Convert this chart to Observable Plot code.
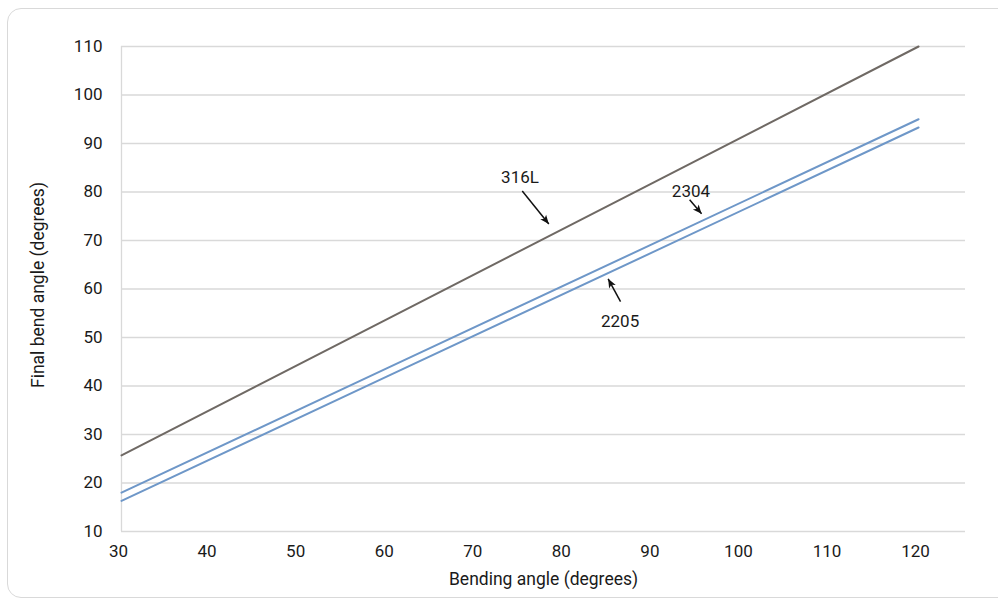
<!DOCTYPE html>
<html>
<head>
<meta charset="utf-8">
<script src="https://cdn.jsdelivr.net/npm/d3@7"></script>
<script src="https://cdn.jsdelivr.net/npm/@observablehq/plot@0.6"></script>
<style>
  html, body { margin: 0; padding: 0; background: #fff; }
  #wrap { position: relative; width: 998px; height: 601px; overflow: hidden; }
  #frame { position: absolute; left: 7px; top: 8px; width: 1010px; height: 590px;
           border: 1px solid #d9d9d9; border-radius: 14px; box-sizing: border-box; }
  #chart { position: absolute; left: 0; top: 0; }
</style>
</head>
<body>
<div id="wrap"><div id="frame"></div><div id="chart"></div></div>
<script>
// Bending angle (degrees) on x
const bendingAngle = [30, 60, 90, 120];
// Final bend angle (degrees) per grade
const final316L = [25.7, 53.8, 81.9, 110.0];
const final2304 = [18.0, 43.7, 69.3, 95.0];
const final2205 = [16.3, 42.0, 67.6, 93.3];
const seriesNames = ["316L", "2304", "2205"];
const xTicks = [30, 40, 50, 60, 70, 80, 90, 100, 110, 120];
const yTicks = [10, 20, 30, 40, 50, 60, 70, 80, 90, 100, 110];

// Annotation labels and arrows (data coordinates)
const labelX = [75.0, 94.3, 86.3];
const labelY = [83.0, 80.0, 53.3];
const arrowX1 = [75.25, 94.15, 86.35];
const arrowY1 = [80.2, 78.4, 57.4];
const arrowX2 = [78.25, 95.5, 84.95];
const arrowY2 = [73.4, 75.5, 62.1];

const colors = {"316L": "#6f6964", "2304": "#6e97c8", "2205": "#6e97c8"};
const seriesValues = [final316L, final2304, final2205];
const data = [];
seriesNames.forEach((s, i) => bendingAngle.forEach((x, j) => data.push({grade: s, x, y: seriesValues[i][j]})));
const labels = seriesNames.map((s, i) => ({text: s, x: labelX[i], y: labelY[i]}));
const arrows = seriesNames.map((s, i) => ({x1: arrowX1[i], y1: arrowY1[i], x2: arrowX2[i], y2: arrowY2[i]}));

const chart = Plot.plot({
  width: 998,
  height: 601,
  marginLeft: 121,
  marginRight: 33,
  marginTop: 46,
  marginBottom: 70,
  style: {fontFamily: "Roboto, sans-serif", fontSize: "17px", color: "#1a1a1a", background: "transparent"},
  x: {domain: [30, 125.3], ticks: xTicks, label: null},
  y: {domain: [10, 110], ticks: yTicks, label: null},
  marks: [
    Plot.ruleY(yTicks, {stroke: "#d9d9d9", strokeWidth: 1.3}),
    Plot.ruleX([30], {stroke: "#d9d9d9", strokeWidth: 1.3}),
    Plot.axisY({ticks: yTicks, tickSize: 0, tickPadding: 19, fontSize: 17, label: null}),
    Plot.axisX({ticks: xTicks, tickSize: 0, tickPadding: 13, fontSize: 17, dx: -3, label: null}),
    Plot.line(data, {x: "x", y: "y", z: "grade", stroke: d => colors[d.grade], strokeWidth: 2}),
    Plot.text(labels, {x: "x", y: "y", text: "text", fontSize: 17, fill: "#1a1a1a"}),
    Plot.link(arrows, {x1: "x1", y1: "y1", x2: "x2", y2: "y2", stroke: "#111", strokeWidth: 1.5}),
    Plot.text(["Bending angle (degrees)"], {frameAnchor: "bottom", dy: 53, fontSize: 17.5, fill: "#1a1a1a"}),
    Plot.text(["Final bend angle (degrees)"], {frameAnchor: "left", textAnchor: "middle", dx: -83, dy: -4, rotate: -90, fontSize: 17.5, fill: "#1a1a1a"})
  ]
});

// filled arrowheads on the annotation links
const svg = d3.select(chart);
const defs = svg.insert("defs", ":first-child");
defs.append("marker")
  .attr("id", "filled-arrow")
  .attr("viewBox", "-10 -5 10 10")
  .attr("refX", 0).attr("refY", 0)
  .attr("markerWidth", 11).attr("markerHeight", 9)
  .attr("markerUnits", "userSpaceOnUse")
  .attr("orient", "auto")
  .append("path").attr("d", "M-10,-4.2L0,0L-10,4.2L-7.5,0Z").attr("fill", "#111");
svg.selectAll("g[aria-label=link] path").attr("marker-end", "url(#filled-arrow)");

document.getElementById("chart").appendChild(chart);
</script>
</body>
</html>
